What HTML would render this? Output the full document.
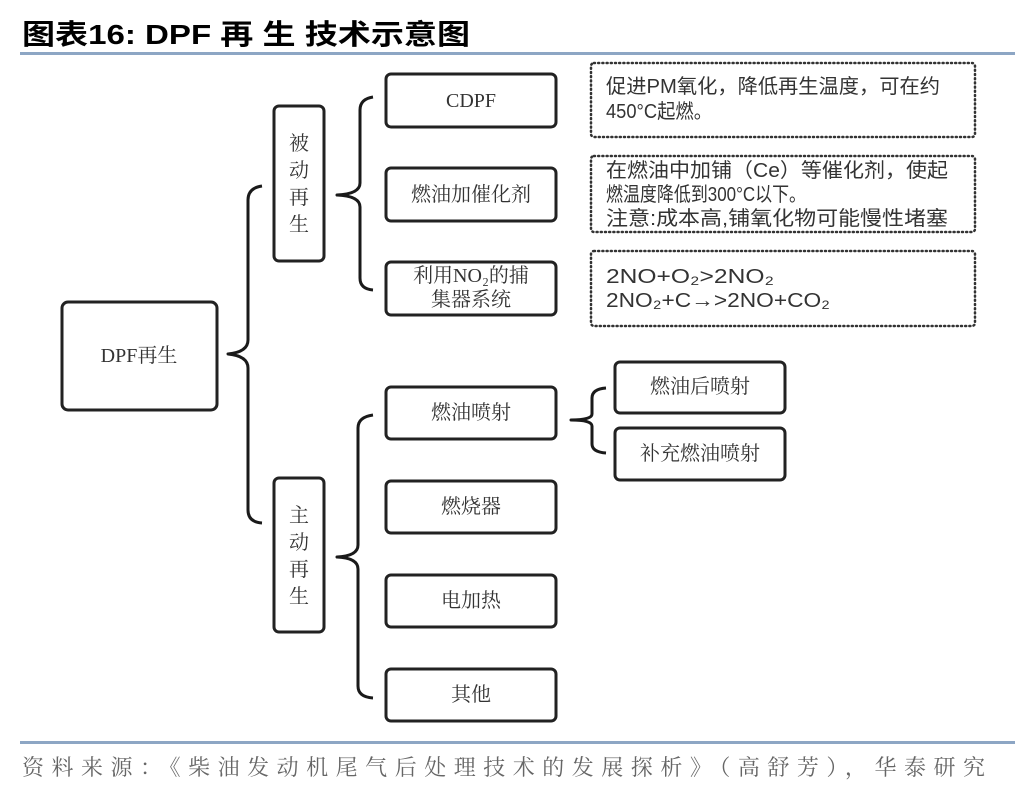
<!DOCTYPE html>
<html><head><meta charset="utf-8"><style>
html,body{margin:0;padding:0;background:#fff;}
svg{display:block;}
.b{fill:#fff;stroke:#222;stroke-width:3;}
.d{fill:none;stroke:#333;stroke-width:2.5;stroke-dasharray:1 3.2;stroke-linecap:round;}
.br{fill:none;stroke:#1a1a1a;stroke-width:3;stroke-linejoin:round;}
.t{font-family:"Liberation Serif","Noto Serif CJK SC",serif;font-size:20px;fill:#333;text-anchor:middle;}
.s{font-family:"Liberation Sans","Noto Sans CJK SC",sans-serif;font-size:20px;fill:#333;}
</style></head><body>
<svg width="1036" height="792" viewBox="0 0 1036 792">
<text x="22" y="44" font-family="'Liberation Sans','Noto Sans CJK SC',sans-serif" font-weight="bold" font-size="28" fill="#000" textLength="448" lengthAdjust="spacingAndGlyphs">图表16:  DPF 再 生 技术示意图</text>
<rect x="20" y="52" width="995" height="3" fill="#8da6c4"/>
<rect x="20" y="741" width="995" height="3" fill="#8da6c4"/>
<text x="22" y="775" font-family="'Liberation Serif','Noto Serif CJK SC',serif" font-size="22" fill="#666" textLength="963" lengthAdjust="spacing">资料来源：《柴油发动机尾气后处理技术的发展探析》（高舒芳），华泰研究</text>

<rect class="b" x="62" y="302" width="155" height="108" rx="6"/>
<text class="t" x="139" y="362">DPF再生</text>
<rect class="b" x="274" y="106" width="50" height="155" rx="5"/>
<text class="t" x="299" y="150">被</text><text class="t" x="299" y="177">动</text><text class="t" x="299" y="204">再</text><text class="t" x="299" y="231">生</text>
<rect class="b" x="274" y="478" width="50" height="154" rx="5"/>
<text class="t" x="299" y="522">主</text><text class="t" x="299" y="549">动</text><text class="t" x="299" y="576">再</text><text class="t" x="299" y="603">生</text>

<rect class="b" x="386" y="74" width="170" height="53" rx="5"/>
<text class="t" x="471" y="107">CDPF</text>
<rect class="b" x="386" y="168" width="170" height="53" rx="5"/>
<text class="t" x="471" y="201">燃油加催化剂</text>
<rect class="b" x="386" y="262" width="170" height="53" rx="5"/>
<text class="t" x="471" y="282">利用NO₂的捕</text>
<text class="t" x="471" y="306">集器系统</text>

<rect class="b" x="386" y="387" width="170" height="52" rx="5"/>
<text class="t" x="471" y="419">燃油喷射</text>
<rect class="b" x="386" y="481" width="170" height="52" rx="5"/>
<text class="t" x="471" y="513">燃烧器</text>
<rect class="b" x="386" y="575" width="170" height="52" rx="5"/>
<text class="t" x="471" y="607">电加热</text>
<rect class="b" x="386" y="669" width="170" height="52" rx="5"/>
<text class="t" x="471" y="701">其他</text>

<rect class="b" x="615" y="362" width="170" height="51" rx="5"/>
<text class="t" x="700" y="393">燃油后喷射</text>
<rect class="b" x="615" y="428" width="170" height="52" rx="5"/>
<text class="t" x="700" y="460">补充燃油喷射</text>

<rect class="d" x="591" y="63" width="384" height="74" rx="3"/>
<text class="s" x="606" y="93" textLength="334" lengthAdjust="spacingAndGlyphs">促进PM氧化，降低再生温度，可在约</text>
<text class="s" x="606" y="118" textLength="106" lengthAdjust="spacingAndGlyphs">450°C起燃。</text>
<rect class="d" x="591" y="156" width="384" height="76" rx="3"/>
<text class="s" x="606" y="177" textLength="342" lengthAdjust="spacingAndGlyphs">在燃油中加铺（Ce）等催化剂，使起</text>
<text class="s" x="606" y="201" textLength="200" lengthAdjust="spacingAndGlyphs">燃温度降低到300°C以下。</text>
<text class="s" x="606" y="225" textLength="342" lengthAdjust="spacingAndGlyphs">注意:成本高,铺氧化物可能慢性堵塞</text>
<rect class="d" x="591" y="251" width="384" height="75" rx="3"/>
<text class="s" x="606" y="283" textLength="168" lengthAdjust="spacingAndGlyphs">2NO+O₂&gt;2NO₂</text>
<text class="s" x="606" y="307" textLength="224" lengthAdjust="spacingAndGlyphs">2NO₂+C→&gt;2NO+CO₂</text>

<path class="br" d="M262,186 Q248,188 248,200 L248,340 Q248,352 228,354 Q248,356 248,368 L248,510 Q248,522 262,523"/>
<path class="br" d="M373,97 Q360,99 360,110 L360,183 Q360,194 337,195 Q360,196 360,207 L360,278 Q360,289 373,290"/>
<path class="br" d="M373,415 Q358,417 358,428 L358,545 Q358,556 337,557 Q358,558 358,569 L358,686 Q358,697 373,698"/>
<path class="br" d="M606,388 Q592,389 592,398 L592,414 Q592,420 571,420 Q592,420 592,426 L592,444 Q592,452 606,453"/>
</svg>
</body></html>
